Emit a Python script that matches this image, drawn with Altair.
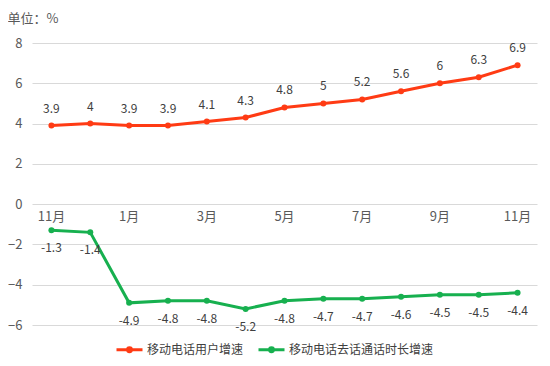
import altair as alt
import pandas as pd

months = ["11月", "12月", "1月", "2月", "3月", "4月", "5月", "6月", "7月", "8月", "9月", "10月", "11月"]
users = [3.9, 4, 3.9, 3.9, 4.1, 4.3, 4.8, 5, 5.2, 5.6, 6, 6.3, 6.9]
calls = [-1.3, -1.4, -4.9, -4.8, -4.8, -5.2, -4.8, -4.7, -4.7, -4.6, -4.5, -4.5, -4.4]
series = ["移动电话用户增速", "移动电话去话通话时长增速"]
colors = ["#FF3B14", "#17B04F"]

rows = []
for i, (m, u, c) in enumerate(zip(months, users, calls)):
    rows.append({"i": i, "month": m, "series": series[0], "v": u, "lab": f"{u:g}"})
    rows.append({"i": i, "month": m, "series": series[1], "v": c, "lab": f"{c:g}"})
df = pd.DataFrame(rows)

mdf = pd.DataFrame({"i": list(range(0, 13, 2)), "month": [months[k] for k in range(0, 13, 2)], "zero": [0] * 7})

FONT = "Noto Sans CJK SC"
xs = alt.X("i:Q", scale=alt.Scale(domain=[-0.5, 12.5], nice=False, zero=False), axis=None)
ys = alt.Y("v:Q", scale=alt.Scale(domain=[-6, 8], nice=False),
           axis=alt.Axis(values=list(range(-6, 9, 2)), title=None, domain=False, ticks=False,
                         labelFontSize=13, labelColor="#595959", labelFont=FONT, labelPadding=10,
                         gridColor="#D9D9D9", gridWidth=1))
col = alt.Color("series:N", scale=alt.Scale(domain=series, range=colors),
                legend=alt.Legend(title=None, orient="none", direction="horizontal",
                                  legendX=83, legendY=292,
                                  symbolType="M-1,0L1,0M-0.15,0A0.15,0.15,0,1,1,0.15,0A0.15,0.15,0,1,1,-0.15,0",
                                  symbolSize=676, symbolStrokeWidth=3,
                                  labelFontSize=12, labelColor="#404040", labelFont=FONT,
                                  columnPadding=8, labelOffset=3))

base = alt.Chart(df)
line = base.mark_line(strokeWidth=3).encode(x=xs, y=ys, color=col)
pts = base.mark_circle(size=36, opacity=1).encode(x=xs, y="v:Q", color=alt.Color("series:N", scale=alt.Scale(domain=series, range=colors), legend=None))
lab_up = base.transform_filter(alt.datum.series == series[0]).mark_text(
    dy=-17, fontSize=12, color="#404040", font=FONT).encode(x=xs, y="v:Q", text="lab:N")
lab_dn = base.transform_filter(alt.datum.series == series[1]).mark_text(
    dy=18, fontSize=12, color="#404040", font=FONT).encode(x=xs, y="v:Q", text="lab:N")
mlab = alt.Chart(mdf).mark_text(dy=13, fontSize=13, color="#595959", font=FONT).encode(
    x=xs, y=alt.Y("zero:Q"), text="month:N")

chart = alt.layer(line, pts, lab_up, lab_dn, mlab).properties(
    width=505, height=282,
    autosize=alt.AutoSizeParams(type="none"),
    padding={"left": 24, "top": 35, "right": 5, "bottom": 40},
    title=alt.TitleParams("单位：%", anchor="start", frame="bounds", dx=0, offset=11, fontSize=13,
                          color="#595959", font=FONT, fontWeight="normal"),
).configure_view(stroke=None)

chart.save("out.html", embed_options={"renderer": "svg", "actions": False})
